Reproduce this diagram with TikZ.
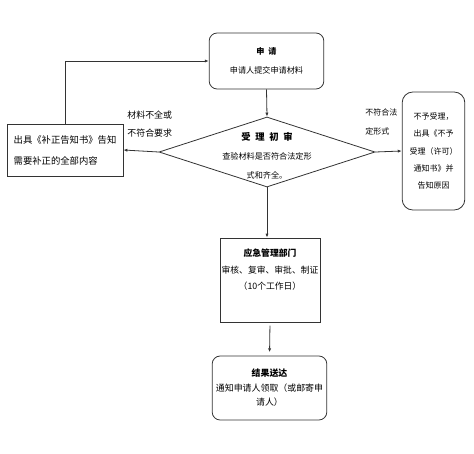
\documentclass[tikz,border=0pt]{standalone}
\usepackage{fontspec}
\setmainfont{Noto Sans CJK SC}
\usetikzlibrary{shapes.geometric,arrows.meta}

\begin{document}
\begin{tikzpicture}[x=0.75pt,y=-0.75pt,line width=0.6pt,
    box/.style={draw=black!80,inner sep=2pt,align=center},
    roundbox/.style={box,rounded corners=6pt},
    decision/.style={diamond,draw=black!80,inner sep=0pt,minimum width=162pt,minimum height=52.5pt},
    flow/.style={draw=black!80,-{Latex[length=3pt,width=2.4pt]}},
    note/.style={align=left,inner sep=0pt,anchor=west}]
    \useasboundingbox[fill=white] (0,0) rectangle (474,453);

    % main column
    \node[roundbox,minimum width=86pt,minimum height=42pt,font={\fontsize{6.1}{14.2}\selectfont}] (apply) at (266.5,61)
        {\textbf{申\hspace{3pt}请}\\申请人提交申请材料};
    \node[decision] (check) at (267,152) {};
    \node[align=center,inner sep=0pt,font={\fontsize{6.1}{14.2}\selectfont}] (checkText) at (267,156)
        {\textbf{\fontsize{7}{14.2}\selectfont 受\hspace{3.5pt}理\hspace{3.5pt}初\hspace{3.5pt}审}\\查验材料是否符合法定形\\式和齐全。};
    \node[box,minimum width=75pt,minimum height=63pt] (dept) at (270,280) {};
    \node[align=center,inner sep=0pt,font={\fontsize{6.6}{12.4}\selectfont}] (deptText) at (270,270)
        {\textbf{应急管理部门}\\审核、复审、审批、制证\\（10个工作日）};
    \node[roundbox,minimum width=86pt,minimum height=48pt,font={\fontsize{6.7}{10.9}\selectfont}] (result) at (269.5,388)
        {\textbf{结果送达}\\通知申请人领取（或邮寄申\\请人）};

    % side boxes
    \node[box,align=left,minimum width=87pt,minimum height=39pt,font={\fontsize{7}{15.7}\selectfont}] (fix) at (65,150)
        {出具《补正告知书》告知\\需要补正的全部内容};
    \node[roundbox,rounded corners=8pt,minimum width=47pt,minimum height=88.5pt,font={\fontsize{6}{12.8}\selectfont}] (refuse) at (433.5,151)
        {不予受理，\\出具《不予\\受理（许可）\\通知书》并\\告知原因};

    % labels
    \node[note,font={\fontsize{6.7}{13.5}\selectfont}] (lackLabel) at (127,124) {材料不全或\\不符合要求};
    \node[note,font={\fontsize{6}{14}\selectfont}] (formLabel) at (365,122) {不符合法\\定形式};

    % connectors
    \draw[flow] (apply.south) -- (check.north);
    \draw[flow] (check.south) -- (check.south |- dept.north);
    \draw[flow,shorten <=2.5pt,shorten >=2.5pt] (dept.south) -- (result.north);
    \draw[flow] (check.west) -- (fix.east);
    \draw[flow] (fix.north) |- (apply.west);
    \draw[flow] (check.east) -- (refuse.west);
\end{tikzpicture}
\end{document}
